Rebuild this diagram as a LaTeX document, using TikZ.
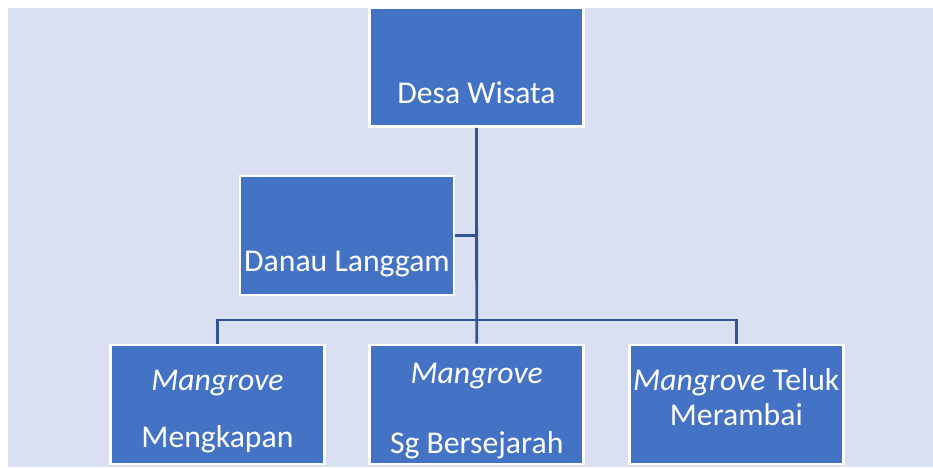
\documentclass[tikz,border=0pt]{standalone}
\usepackage{fontspec}
\setmainfont{Carlito}
\definecolor{bgtint}{HTML}{DAE0F2}
\definecolor{boxblue}{HTML}{4472C4}
\definecolor{linkblue}{HTML}{2F5597}
\begin{document}
\begin{tikzpicture}[x=1pt,y=-1pt,
	every node/.style={rectangle,fill=boxblue,draw=white,line width=2.6pt,
	minimum width=214pt,minimum height=119pt,inner sep=0pt,
	text=white,font=\fontsize{31.7}{35}\selectfont,align=center},
	drop/.style={text height=#1,text depth=0pt},
	link/.style={draw=linkblue,line width=2.8pt}]
\useasboundingbox (0,0) rectangle (933,467);
\fill[bgtint] (8,8) rectangle (933,467);
% top and assistant
\node[drop=73pt] (dw) at (476.5,67) {Desa Wisata};
\node[drop=72.4pt] (dl) at (347,235.5) {Danau Langgam};
% bottom row
\node[drop=86.4pt] (mk) at (217.4,404.5) {\textit{Mangrove}\\[22.7pt]Mengkapan};
\node[drop=97.6pt] (sg) at (476.7,404.5) {\textit{Mangrove}\\[35pt]Sg Bersejarah};
\node[drop=41pt] (mr) at (736.3,404.5) {\textit{Mangrove} Teluk\\Merambai};
\coordinate (bus) at (476.5,320);
\draw[link] (dw.south) -- (sg.north);
\draw[link] (dl.east) -- (dl.east -| dw.south);
\draw[link] (mk.north) |- (bus) -| (mr.north);
\end{tikzpicture}
\end{document}
